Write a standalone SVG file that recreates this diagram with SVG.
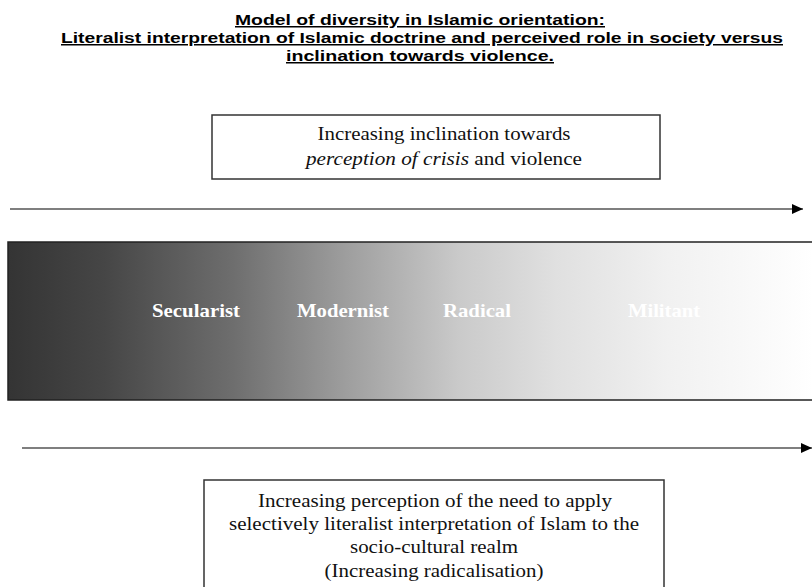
<svg xmlns="http://www.w3.org/2000/svg" width="812" height="587" viewBox="0 0 812 587">
<defs>
<linearGradient id="g" x1="0" y1="0" x2="1" y2="0">
<stop offset="0" stop-color="#343434"/>
<stop offset="0.12" stop-color="#464646"/>
<stop offset="0.28" stop-color="#6e6e6e"/>
<stop offset="0.42" stop-color="#9e9e9e"/>
<stop offset="0.56" stop-color="#cacaca"/>
<stop offset="0.68" stop-color="#e0e0e0"/>
<stop offset="0.82" stop-color="#f1f1f1"/>
<stop offset="1" stop-color="#ffffff"/>
</linearGradient>
<marker id="ah" markerWidth="11" markerHeight="10" refX="11" refY="5" orient="auto" markerUnits="userSpaceOnUse">
<path d="M0,0 L11,5 L0,10 Z" fill="#000"/>
</marker>
</defs>
<style>
.title{font-family:"Liberation Sans",Arial,sans-serif;font-weight:bold;font-size:15px;text-decoration:underline;fill:#000}
.body{font-family:"Liberation Serif","Times New Roman",serif;font-size:18px;fill:#111}
.band{font-family:"Liberation Serif","Times New Roman",serif;font-weight:bold;font-size:19px;fill:#fff}
.box{fill:#fff;stroke:#333;stroke-width:1.5}
.conn{stroke:#555;stroke-width:1.5;fill:none}
</style>
<rect width="812" height="587" fill="#fff"/>
<g id="title">
<text class="title" x="420" y="25" text-anchor="middle" textLength="370" lengthAdjust="spacingAndGlyphs">Model of diversity in Islamic orientation:</text>
<text class="title" x="422" y="43" text-anchor="middle" textLength="722" lengthAdjust="spacingAndGlyphs">Literalist interpretation of Islamic doctrine and perceived role in society versus</text>
<text class="title" x="420" y="61" text-anchor="middle" textLength="268" lengthAdjust="spacingAndGlyphs">inclination towards violence.</text>
</g>
<g id="top-box">
<rect class="box" x="212" y="115" width="448" height="64"/>
<text class="body" x="444" y="140" text-anchor="middle" textLength="253" lengthAdjust="spacingAndGlyphs">Increasing inclination towards</text>
<text class="body" x="444" y="165" text-anchor="middle" textLength="276" lengthAdjust="spacingAndGlyphs"><tspan font-style="italic">perception of crisis</tspan> and violence</text>
</g>
<g id="spectrum">
<rect x="8" y="242" width="806" height="158" fill="url(#g)" stroke="#222" stroke-width="1.5"/>
<text class="band" x="196" y="317" text-anchor="middle" textLength="88" lengthAdjust="spacingAndGlyphs">Secularist</text>
<text class="band" x="343" y="317" text-anchor="middle" textLength="92" lengthAdjust="spacingAndGlyphs">Modernist</text>
<text class="band" x="477" y="317" text-anchor="middle" textLength="68" lengthAdjust="spacingAndGlyphs">Radical</text>
<text class="band" x="664" y="317" text-anchor="middle" textLength="72" lengthAdjust="spacingAndGlyphs">Militant</text>
</g>
<g id="connectors">
<line class="conn" x1="10" y1="209" x2="803" y2="209" marker-end="url(#ah)"/>
<line class="conn" x1="22" y1="448" x2="812" y2="448" marker-end="url(#ah)"/>
</g>
<g id="bottom-box">
<rect class="box" x="204" y="480" width="460" height="120"/>
<text class="body" x="435" y="507" text-anchor="middle" textLength="354" lengthAdjust="spacingAndGlyphs">Increasing perception of the need to apply</text>
<text class="body" x="434" y="530" text-anchor="middle" textLength="410" lengthAdjust="spacingAndGlyphs">selectively literalist interpretation of Islam to the</text>
<text class="body" x="434" y="553" text-anchor="middle" textLength="168" lengthAdjust="spacingAndGlyphs">socio-cultural realm</text>
<text class="body" x="434" y="577" text-anchor="middle" textLength="219" lengthAdjust="spacingAndGlyphs">(Increasing radicalisation)</text>
</g>
</svg>
